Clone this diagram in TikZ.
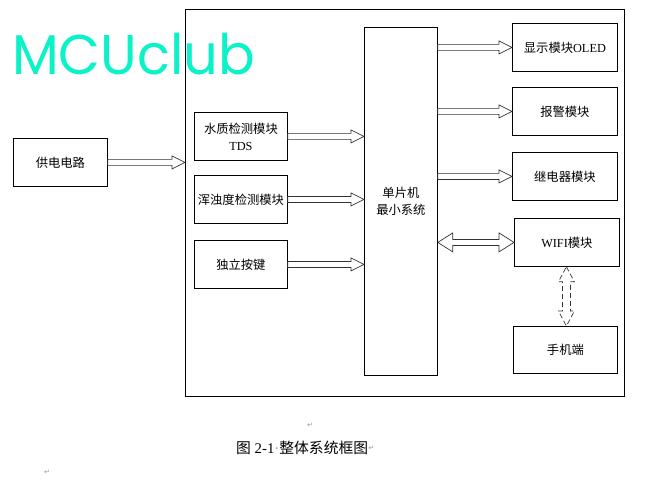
\documentclass[tikz,border=0pt]{standalone}
\usepackage{fontspec}
\setmainfont{Liberation Serif}
\newfontfamily\cjk{Noto Sans CJK SC}
\newfontfamily\logo{Poppins}
\newfontfamily\sym{DejaVu Sans}
\usetikzlibrary{calc}
\definecolor{logocol}{RGB}{12,242,200}
\definecolor{markcol}{RGB}{150,150,150}
\tikzset{
  box/.style={draw=black, line width=0.8pt, inner sep=0pt, anchor=north west, align=center, font=\fontsize{12.3}{17}\selectfont},
  arr/.style={draw=black!80, line width=0.7pt, fill=white},
  darr/.style={draw=black!80, line width=0.7pt, dash pattern=on 5pt off 3pt},
  pmark/.style={text=markcol, font=\sym\fontsize{7}{8}\selectfont, inner sep=0pt}
}
\newcommand\rarrow[2]{%
  \draw[arr] let \p1=(#1), \p2=(#2) in
  (\x1,\y1+3pt) -- (\x2-13pt,\y1+3pt) -- (\x2-13pt,\y1+6.5pt) -- (\x2,\y1)
  -- (\x2-13pt,\y1-6.5pt) -- (\x2-13pt,\y1-3pt) -- (\x1,\y1-3pt) -- cycle;}
\begin{document}
\begin{tikzpicture}[x=1pt,y=-1pt]
\useasboundingbox (0,0) rectangle (648,500);
% outer frame
\node[box, minimum width=439pt, minimum height=387pt] (outer) at (185,9) {};
% logo
\node[anchor=west, inner sep=0pt, text=logocol, font=\logo\fontsize{56}{56}\selectfont] (logo) at (12,54) {\scalebox{0.97}[1]{MCUclub}};
% boxes
\node[box, minimum width=94pt, minimum height=48pt] (power) at (13,138) {\cjk 供电电路};
\node[box, minimum width=93pt, minimum height=48pt] (tds) at (194,112) {{\cjk 水质检测模块}\\TDS};
\node[box, minimum width=93pt, minimum height=48pt] (turb) at (194,175) {\cjk 浑浊度检测模块};
\node[box, minimum width=93pt, minimum height=48pt] (key) at (194,240) {\cjk 独立按键};
\node[box, minimum width=73pt, minimum height=348pt] (mcu) at (364,27) {{\cjk 单片机}\\{\cjk 最小系统}};
\node[box, minimum width=105pt, minimum height=48pt] (oled) at (512,23) {{\cjk 显示模块}OLED};
\node[box, minimum width=105pt, minimum height=48pt] (alarm) at (512,87) {\cjk 报警模块};
\node[box, minimum width=105pt, minimum height=48pt] (relay) at (512,152) {\cjk 继电器模块};
\node[box, minimum width=105pt, minimum height=48pt] (wifi) at (514,218) {WIFI{\cjk 模块}};
\node[box, minimum width=104pt, minimum height=47pt] (phone) at (513,326) {\cjk 手机端};
% arrows
\rarrow{power.east}{power.east -| outer.west}
\rarrow{tds.east}{tds.east -| mcu.west}
\rarrow{turb.east}{turb.east -| mcu.west}
\rarrow{key.east}{key.east -| mcu.west}
\rarrow{oled.west -| mcu.east}{oled.west}
\rarrow{alarm.west -| mcu.east}{alarm.west}
\rarrow{relay.west -| mcu.east}{relay.west}
% double arrow mcu <-> wifi
\draw[arr] let \p1=(wifi.west -| mcu.east), \p2=(wifi.west) in
  (\x1,\y1) -- (\x1+15pt,\y1+9.5pt) -- (\x1+15pt,\y1+3pt) -- (\x2-15pt,\y1+3pt)
  -- (\x2-15pt,\y1+9.5pt) -- (\x2,\y1) -- (\x2-15pt,\y1-9.5pt) -- (\x2-15pt,\y1-3pt)
  -- (\x1+15pt,\y1-3pt) -- (\x1+15pt,\y1-9.5pt) -- cycle;
% dashed double arrow wifi <-> phone
\coordinate (wt) at ($(wifi.south)+(-0.5,0)$);
\draw[darr] let \p1=(wt), \p2=(wt |- phone.north) in
  (\x1,\y1) -- (\x1+8pt,\y1-15pt) -- (\x1+4pt,\y1-15pt) -- (\x1+4pt,\y2+15pt)
  -- (\x1+8pt,\y2+15pt) -- (\x1,\y2) -- (\x1-8pt,\y2+15pt) -- (\x1-4pt,\y2+15pt)
  -- (\x1-4pt,\y1-15pt) -- (\x1-8pt,\y1-15pt) -- cycle;
% caption and paragraph marks
\node[pmark] (m1) at (310,425) {↵};
\node[anchor=west, inner sep=0pt, font=\fontsize{14.8}{17}\selectfont] (cap) at (236,448) {{\cjk 图} 2-1{\color{markcol}·}{\cjk 整体系统框图}};
\node[pmark, anchor=west] (m2) at (cap.east) {↵};
\node[pmark] (m3) at (47,472) {↵};
\end{tikzpicture}
\end{document}
